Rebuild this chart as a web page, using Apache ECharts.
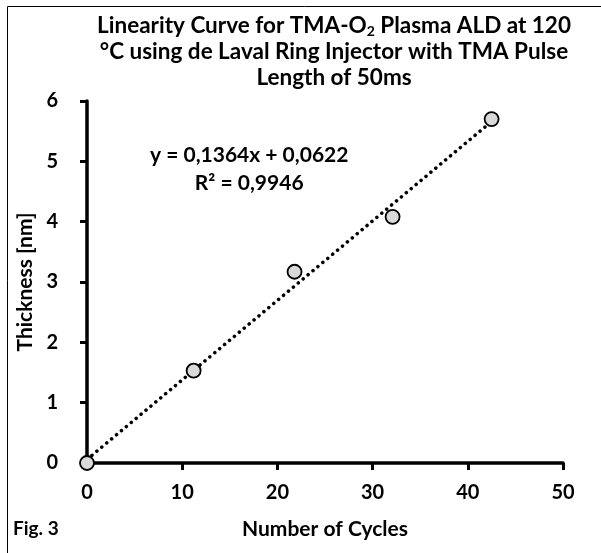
<!DOCTYPE html>
<html>
<head>
<meta charset="utf-8">
<script src="https://cdn.jsdelivr.net/npm/echarts@6/dist/echarts.min.js"></script>
<style>
  * { margin: 0; padding: 0; }
  body { background: #fff; }
</style>
</head>
<body>
<div id="main" style="width: 601px; height: 553px;"></div>
<script>
  // measured points: cycles vs thickness
  var cycles = [0, 11.2, 21.8, 32.1, 42.5]
  var thickness = [0, 1.53, 3.17, 4.08, 5.70]
  var xTicks = [0, 10, 20, 30, 40, 50]
  var yTicks = [0, 1, 2, 3, 4, 5, 6]
  var eqLabel = 'y = 0,1364x + 0,0622'
  var r2Label = 'R² = 0,9946'

  // least squares trendline through the measured points
  function fitLine (xs, ys) {
    var n = xs.length, mx = 0, my = 0
    for (var i = 0; i < n; i++) { mx += xs[i]; my += ys[i] }
    mx /= n; my /= n
    var sxy = 0, sxx = 0
    for (var j = 0; j < n; j++) {
      sxy += (xs[j] - mx) * (ys[j] - my)
      sxx += (xs[j] - mx) * (xs[j] - mx)
    }
    var slope = sxy / sxx
    return { slope: slope, intercept: my - slope * mx }
  }
  var fit = fitLine(cycles, thickness)
  var xEnd = cycles[cycles.length - 1]
  var trend = [[0, fit.intercept], [xEnd, fit.slope * xEnd + fit.intercept]]

  var font = 'Lato, "Liberation Sans", sans-serif'
  var myChart = echarts.init(document.getElementById('main'))
  myChart.setOption({
    animation: false,
    textStyle: { fontFamily: font },
    title: {
      text: 'Linearity Curve for TMA-O{sub|2} Plasma ALD at 120\n°C using de Laval Ring Injector with TMA Pulse\nLength of 50ms',
      left: 329,
      top: 8,
      textAlign: 'center',
      textStyle: {
        fontFamily: font,
        fontSize: 22.5,
        fontWeight: 'bold',
        color: '#000',
        lineHeight: 26,
        align: 'center',
        rich: {
          sub: { fontFamily: font, fontSize: 14, fontWeight: 'bold', color: '#000', padding: [10, 0, 0, 0] }
        }
      }
    },
    grid: { left: 87, right: 38, top: 101, bottom: 90 },
    xAxis: {
      type: 'value',
      min: xTicks[0],
      max: xTicks[xTicks.length - 1],
      interval: 10,
      name: 'Number of Cycles',
      nameLocation: 'middle',
      nameGap: 56,
      nameTextStyle: { fontFamily: font, fontSize: 21, fontWeight: 'bold', color: '#000' },
      axisLine: { lineStyle: { color: '#000', width: 3.5 } },
      axisTick: { show: true, length: 7, lineStyle: { color: '#000', width: 3 } },
      axisLabel: { fontFamily: font, fontSize: 20, fontWeight: 'bold', color: '#000', margin: 20 },
      splitLine: { show: false }
    },
    yAxis: {
      type: 'value',
      min: yTicks[0],
      max: yTicks[yTicks.length - 1],
      interval: 1,
      name: 'Thickness [nm]',
      nameLocation: 'middle',
      nameGap: 50,
      nameTextStyle: { fontFamily: font, fontSize: 21, fontWeight: 'bold', color: '#000' },
      axisLine: { show: true, lineStyle: { color: '#000', width: 3.5 } },
      axisTick: { show: true, length: 7, lineStyle: { color: '#000', width: 3 } },
      axisLabel: { fontFamily: font, fontSize: 20, fontWeight: 'bold', color: '#000', margin: 29 },
      splitLine: { show: false }
    },
    series: [
      {
        name: 'trend',
        type: 'line',
        data: trend,
        showSymbol: false,
        silent: true,
        z: 2,
        lineStyle: { color: '#000', width: 3.5, type: [0.1, 6.3], cap: 'round' }
      },
      {
        name: 'Thickness',
        type: 'scatter',
        data: cycles.map(function (c, i) { return [c, thickness[i]] }),
        symbolSize: 14,
        z: 3,
        itemStyle: { color: '#d9d9d9', borderColor: '#000', borderWidth: 1.8, opacity: 1 }
      }
    ],
    graphic: [
      {
        type: 'rect',
        shape: { x: 7.5, y: 6.5, width: 620, height: 620 },
        style: { fill: 'none', stroke: '#000', lineWidth: 1 },
        silent: true
      },
      {
        type: 'text',
        left: 150,
        top: 141,
        style: {
          text: eqLabel + '\n' + r2Label,
          font: 'bold 21px ' + font,
          fill: '#000',
          textAlign: 'center',
          lineHeight: 28
        }
      },
      {
        type: 'text',
        left: 13,
        top: 519,
        style: { text: 'Fig. 3', font: 'bold 19px ' + font, fill: '#000' }
      }
    ]
  })
</script>
</body>
</html>
